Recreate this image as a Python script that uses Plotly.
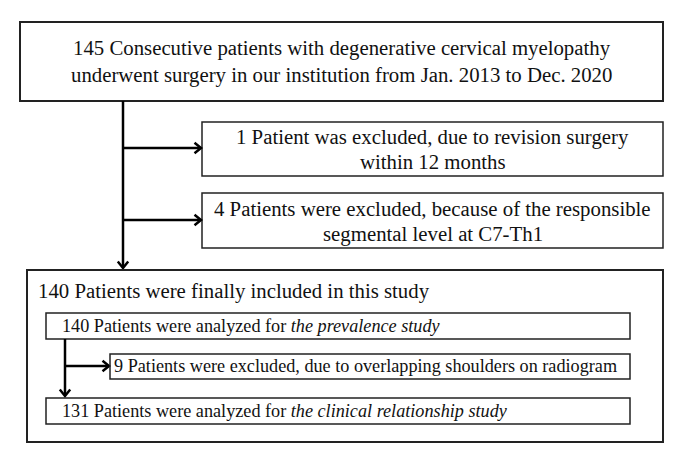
import plotly.graph_objects as go

# ---- content ----
top_lines = ["145 Consecutive patients with degenerative cervical myelopathy",
             "underwent surgery in our institution from Jan. 2013 to Dec. 2020"]
excl1_lines = ["1 Patient was excluded, due to revision surgery", "within 12 months"]
excl2_lines = ["4 Patients were excluded, because of the responsible", "segmental level at C7-Th1"]
included_title = "140 Patients were finally included in this study"
prev_text = "140 Patients were analyzed for <i>the prevalence study</i>"
excl3_text = "9 Patients were excluded, due to overlapping shoulders on radiogram"
clin_text = "131 Patients were analyzed for <i>the clinical relationship study</i>"

W, H = 676, 460
FONT = "Liberation Serif"
BIG = 20.8
SMALL = 18.2
shapes = []
annotations = []

def box(x0, y0, x1, y1, w=1.5, color="#222"):
    shapes.append(dict(type="rect", xref="x", yref="y", x0=x0, y0=y0, x1=x1, y1=y1,
                       line=dict(color=color, width=w), fillcolor="rgba(0,0,0,0)"))

def line(x0, y0, x1, y1, w=2.5):
    shapes.append(dict(type="line", xref="x", yref="y", x0=x0, y0=y0, x1=x1, y1=y1,
                       line=dict(color="black", width=w)))

def head(x, y, direction, s=6.5, w=2.5):
    if direction == "right":
        p = f"M {x-s},{y-s*0.8} L {x},{y} L {x-s},{y+s*0.8}"
    else:
        p = f"M {x-s*0.8},{y-s} L {x},{y} L {x+s*0.8},{y-s}"
    shapes.append(dict(type="path", xref="x", yref="y", path=p,
                       line=dict(color="black", width=w)))

def text(x, y, s, size=BIG, anchor="center"):
    annotations.append(dict(x=x, y=y, xref="x", yref="y", text=s, showarrow=False,
                            xanchor=anchor, yanchor="middle",
                            font=dict(family=FONT, size=size, color="#111")))

# top box
box(20, 22, 663, 101, w=2)
text(341.5, 48, top_lines[0])
text(341.5, 75, top_lines[1])

# main vertical
line(123, 101, 123, 266)
head(123, 268, "down")

# exclusion boxes
box(202, 122, 663, 176)
text(432.5, 137, excl1_lines[0])
text(432.5, 161, excl1_lines[1])
line(123, 148, 199, 148)
head(201, 148, "right")

box(202, 193, 663, 248)
text(432.5, 209, excl2_lines[0])
text(432.5, 234, excl2_lines[1])
line(123, 220, 199, 220)
head(201, 220, "right")

# big box
box(27, 270, 663, 442, w=2)
text(36, 291, included_title, anchor="left")

box(46, 313, 630, 339)
text(60, 326, prev_text, size=SMALL, anchor="left")

line(65, 339, 65, 394)
head(65, 396, "down")
line(65, 366, 107, 366)
head(109, 366, "right")

box(110, 354, 630, 379)
text(112, 366, excl3_text, size=SMALL, anchor="left")

box(46, 398, 630, 424)
text(60, 411, clin_text, size=SMALL, anchor="left")

fig = go.Figure()
fig.update_layout(
    width=W, height=H, margin=dict(l=0, r=0, t=0, b=0),
    paper_bgcolor="white", plot_bgcolor="white",
    xaxis=dict(range=[0, W], visible=False, fixedrange=True),
    yaxis=dict(range=[H, 0], visible=False, fixedrange=True),
    shapes=shapes, annotations=annotations, showlegend=False,
)
fig.write_html("out.html", config={"displayModeBar": False},
               post_script="document.body.style.margin='0';document.body.style.overflow='hidden';")
